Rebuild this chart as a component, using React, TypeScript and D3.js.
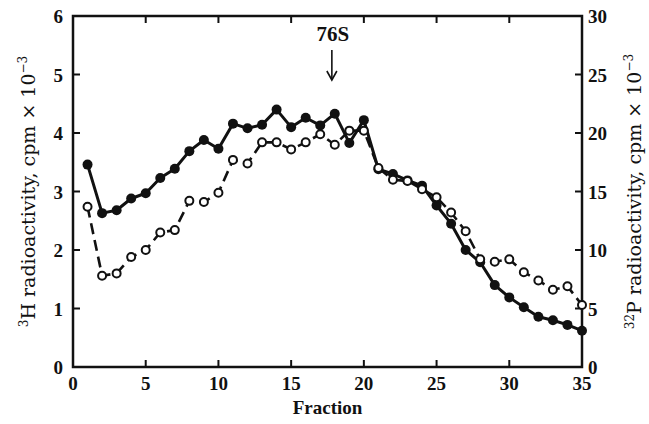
import { useEffect, useRef } from 'react';
import * as d3 from 'd3';

// fraction numbers
const fractions = [
  1, 2, 3, 4, 5, 6, 7, 8, 9, 10, 11, 12, 13, 14, 15, 16, 17, 18,
  19, 20, 21, 22, 23, 24, 25, 26, 27, 28, 29, 30, 31, 32, 33, 34, 35,
];

// 3H radioactivity (cpm x 10^-3), filled circles, left axis
const tritium = [
  3.46, 2.63, 2.68, 2.88, 2.97, 3.23, 3.39, 3.69, 3.88, 3.73,
  4.16, 4.08, 4.14, 4.40, 4.10, 4.26, 4.13, 4.33, 3.83, 4.22,
  3.38, 3.30, 3.19, 3.10, 2.76, 2.45, 2.00, 1.79, 1.40, 1.19,
  1.02, 0.86, 0.80, 0.72, 0.62,
];

// 32P radioactivity (cpm x 10^-3), open circles, right axis
const phosphorus = [
  13.7, 7.8, 8.0, 9.4, 10.0, 11.5, 11.7, 14.2, 14.1, 14.9,
  17.7, 17.4, 19.2, 19.2, 18.6, 19.2, 19.9, 19.0, 20.2, 20.2,
  17.0, 16.0, 15.9, 15.2, 14.5, 13.2, 11.6, 9.2, 9.0, 9.2,
  8.1, 7.4, 6.6, 6.9, 5.3,
];

const xTicks = [0, 5, 10, 15, 20, 25, 30, 35];
const leftTicks = [0, 1, 2, 3, 4, 5, 6];
const rightTicks = [0, 5, 10, 15, 20, 25, 30];

const markerFraction = 17.8;
const markerLabel = '76S';

export default function App() {
  const svgRef = useRef<SVGSVGElement | null>(null);

  useEffect(() => {
    if (!svgRef.current) return;
    const svg = d3.select(svgRef.current);
    svg.selectAll('*').remove();

    const W = 649;
    const H = 424;
    const margin = { top: 16, right: 67, bottom: 57, left: 73 };
    const ink = '#111';
    const font = '"Liberation Serif", "DejaVu Serif", serif';
    const wideFont = '"DejaVu Serif", "Liberation Serif", serif';

    svg.attr('width', W).attr('height', H);
    svg.append('rect').attr('width', W).attr('height', H).attr('fill', '#fff');

    const x = d3.scaleLinear().domain([0, 35]).range([margin.left, W - margin.right]);
    const yL = d3.scaleLinear().domain([0, 6]).range([H - margin.bottom, margin.top]);
    const yR = d3.scaleLinear().domain([0, 30]).range([H - margin.bottom, margin.top]);

    const [x0, x1] = x.range();
    const [y0, y1] = yL.range();

    // frame
    svg.append('rect')
      .attr('x', x0).attr('y', y1)
      .attr('width', x1 - x0).attr('height', y0 - y1)
      .attr('fill', 'none')
      .attr('stroke', ink)
      .attr('stroke-width', 2.5);

    const tickLen = 7;

    // bottom & top ticks
    xTicks.slice(1, -1).forEach(t => {
      svg.append('line')
        .attr('x1', x(t)).attr('x2', x(t))
        .attr('y1', y0).attr('y2', y0 - tickLen)
        .attr('stroke', ink).attr('stroke-width', 2);
      svg.append('line')
        .attr('x1', x(t)).attr('x2', x(t))
        .attr('y1', y1).attr('y2', y1 + tickLen)
        .attr('stroke', ink).attr('stroke-width', 2);
    });

    leftTicks.slice(1, -1).forEach(t => {
      svg.append('line')
        .attr('x1', x0).attr('x2', x0 + tickLen)
        .attr('y1', yL(t)).attr('y2', yL(t))
        .attr('stroke', ink).attr('stroke-width', 2);
    });

    rightTicks.slice(1, -1).forEach(t => {
      svg.append('line')
        .attr('x1', x1).attr('x2', x1 - tickLen)
        .attr('y1', yR(t)).attr('y2', yR(t))
        .attr('stroke', ink).attr('stroke-width', 2);
    });

    // tick labels
    const labelSize = '19px';
    svg.append('g').selectAll('text')
      .data(xTicks)
      .join('text')
      .attr('x', d => x(d))
      .attr('y', y0 + 23)
      .attr('text-anchor', 'middle')
      .attr('font-family', font)
      .attr('font-weight', 'bold')
      .attr('font-size', labelSize)
      .attr('fill', ink)
      .text(d => d);

    svg.append('g').selectAll('text')
      .data(leftTicks)
      .join('text')
      .attr('x', x0 - 10)
      .attr('y', d => yL(d) + 7)
      .attr('text-anchor', 'end')
      .attr('font-family', font)
      .attr('font-weight', 'bold')
      .attr('font-size', labelSize)
      .attr('fill', ink)
      .text(d => d);

    svg.append('g').selectAll('text')
      .data(rightTicks)
      .join('text')
      .attr('x', x1 + 6)
      .attr('y', d => yR(d) + 7)
      .attr('text-anchor', 'start')
      .attr('font-family', font)
      .attr('font-weight', 'bold')
      .attr('font-size', labelSize)
      .attr('fill', ink)
      .text(d => d);

    // axis titles
    svg.append('text')
      .attr('x', (x0 + x1) / 2)
      .attr('y', H - 10)
      .attr('text-anchor', 'middle')
      .attr('font-family', font)
      .attr('font-weight', 'bold')
      .attr('font-size', '19px')
      .attr('fill', ink)
      .text('Fraction');

    const yTitle = (tx: number, iso: string) => {
      const t = svg.append('text')
        .attr('transform', `translate(${tx},${(y0 + y1) / 2}) rotate(-90)`)
        .attr('text-anchor', 'middle')
        .attr('font-family', wideFont)
        .attr('font-size', '19px')
        .attr('fill', ink);
      t.append('tspan').attr('font-size', '12px').attr('dy', -7).text(iso);
      t.append('tspan').attr('dy', 7).text(iso === '3' ? 'H radioactivity, cpm × 10' : 'P radioactivity, cpm × 10');
      t.append('tspan').attr('font-size', '12px').attr('dy', -8).text('−3');
    };
    yTitle(35, '3');
    yTitle(641, '32');

    // 32P dashed line with open circles
    const lineR = d3.line<number>()
      .x((_, i) => x(fractions[i]))
      .y(d => yR(d));

    svg.append('path')
      .datum(phosphorus)
      .attr('d', lineR)
      .attr('fill', 'none')
      .attr('stroke', ink)
      .attr('stroke-width', 2.6)
      .attr('stroke-dasharray', '11,6');

    // 3H solid line with filled circles
    const lineL = d3.line<number>()
      .x((_, i) => x(fractions[i]))
      .y(d => yL(d));

    svg.append('path')
      .datum(tritium)
      .attr('d', lineL)
      .attr('fill', 'none')
      .attr('stroke', ink)
      .attr('stroke-width', 3)
      .attr('stroke-linejoin', 'round');

    svg.append('g').selectAll('circle')
      .data(tritium)
      .join('circle')
      .attr('cx', (_, i) => x(fractions[i]))
      .attr('cy', d => yL(d))
      .attr('r', 5)
      .attr('fill', ink);

    svg.append('g').selectAll('circle')
      .data(phosphorus)
      .join('circle')
      .attr('cx', (_, i) => x(fractions[i]))
      .attr('cy', d => yR(d))
      .attr('r', 4)
      .attr('fill', '#fff')
      .attr('stroke', ink)
      .attr('stroke-width', 2);

    // 76S marker
    const mx = x(markerFraction);
    svg.append('text')
      .attr('x', mx + 1)
      .attr('y', y1 + 25)
      .attr('text-anchor', 'middle')
      .attr('font-family', font)
      .attr('font-weight', 'bold')
      .attr('font-size', '21px')
      .attr('fill', ink)
      .text(markerLabel);

    svg.append('line')
      .attr('x1', mx).attr('x2', mx)
      .attr('y1', y1 + 34).attr('y2', y1 + 63)
      .attr('stroke', ink).attr('stroke-width', 1.6);
    svg.append('path')
      .attr('d', `M${mx - 5},${y1 + 55} L${mx},${y1 + 64} L${mx + 5},${y1 + 55}`)
      .attr('fill', 'none')
      .attr('stroke', ink)
      .attr('stroke-width', 1.6);
  }, []);

  return (
    <div style={{ position: 'absolute', left: 0, top: 0 }}>
      <svg ref={svgRef} style={{ display: 'block' }} />
    </div>
  );
}
